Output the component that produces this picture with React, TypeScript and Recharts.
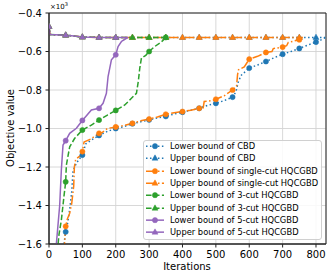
import React from 'react';
import { LineChart, Line, XAxis, YAxis, CartesianGrid, ReferenceArea } from 'recharts';

type P = [number, number];

const xTicks = [0, 100, 200, 300, 400, 500, 600, 700, 800];
const yTicks = [-1.6, -1.4, -1.2, -1.0, -0.8, -0.6, -0.4];

const cbdLower: P[] = [
  [42, -1.64], [48, -1.56], [50, -1.537], [55, -1.5], [62, -1.42], [68, -1.33], [72, -1.22], [82, -1.18],
  [100, -1.138], [110, -1.08], [127, -1.06], [150, -1.036], [175, -1.015], [200, -1.0], [225, -0.99],
  [250, -0.975], [275, -0.965], [300, -0.955], [325, -0.945], [350, -0.937], [375, -0.925], [400, -0.915],
  [425, -0.905], [450, -0.895], [475, -0.88], [500, -0.869], [525, -0.855], [550, -0.837], [560, -0.81],
  [567, -0.76], [575, -0.725], [600, -0.686], [625, -0.67], [650, -0.652], [675, -0.632], [700, -0.614],
  [725, -0.6], [750, -0.584], [775, -0.567], [800, -0.551], [815, -0.54], [828, -0.527],
];
const cbdUpper: P[] = [
  [0, -0.47], [3, -0.512], [50, -0.515], [75, -0.52], [100, -0.525], [150, -0.527], [200, -0.527],
  [250, -0.527], [300, -0.527], [350, -0.527], [400, -0.527], [450, -0.527], [500, -0.527], [550, -0.527],
  [600, -0.527], [650, -0.527], [700, -0.527], [750, -0.527], [800, -0.527], [828, -0.527],
];
const singleLower: P[] = [
  [45, -1.64], [48, -1.56], [50, -1.508], [55, -1.47], [62, -1.44], [68, -1.39], [74, -1.3], [76, -1.2],
  [80, -1.16], [95, -1.14], [100, -1.12], [105, -1.07], [125, -1.055], [150, -1.025], [160, -1.02],
  [175, -1.0], [200, -0.992], [225, -0.985], [250, -0.973], [275, -0.96], [300, -0.951], [325, -0.94],
  [350, -0.926], [375, -0.918], [400, -0.912], [425, -0.905], [450, -0.895], [462, -0.893], [465, -0.86],
  [490, -0.855], [500, -0.848], [525, -0.83], [550, -0.8], [562, -0.78], [565, -0.72], [568, -0.695],
  [585, -0.68], [600, -0.64], [625, -0.625], [650, -0.605], [668, -0.6], [672, -0.585], [700, -0.577],
  [712, -0.57], [717, -0.553], [735, -0.545], [750, -0.539], [760, -0.527],
];
const singleUpper: P[] = [
  [0, -0.47], [3, -0.512], [50, -0.515], [75, -0.52], [100, -0.525], [150, -0.527], [200, -0.527],
  [250, -0.527], [300, -0.527], [350, -0.527], [400, -0.527], [450, -0.527], [500, -0.527], [550, -0.527],
  [600, -0.527], [650, -0.527], [700, -0.527], [750, -0.527], [760, -0.527],
];
const cut3Lower: P[] = [
  [25, -1.64], [30, -1.55], [37, -1.476], [45, -1.35], [50, -1.277], [52, -1.19], [62, -1.095],
  [77, -1.051], [100, -1.008], [127, -0.982], [150, -0.956], [175, -0.93], [200, -0.906], [227, -0.878],
  [247, -0.843], [262, -0.817], [268, -0.75], [272, -0.686], [277, -0.634], [290, -0.62], [300, -0.6],
  [317, -0.574], [332, -0.556], [340, -0.545], [350, -0.527],
];
const cut3Upper: P[] = [
  [0, -0.47], [3, -0.512], [50, -0.515], [75, -0.52], [100, -0.525], [150, -0.527], [200, -0.527],
  [250, -0.527], [300, -0.527], [350, -0.527],
];
const cut5Lower: P[] = [
  [20, -1.7], [22, -1.6], [32, -1.4], [37, -1.216], [42, -1.086], [50, -1.063], [62, -1.025], [82, -0.999],
  [97, -0.965], [100, -0.958], [127, -0.904], [150, -0.895], [162, -0.869], [172, -0.817], [177, -0.73],
  [187, -0.643], [200, -0.617], [207, -0.574], [217, -0.548], [225, -0.539], [237, -0.527],
];
const cut5Upper: P[] = [
  [0, -0.47], [3, -0.512], [50, -0.515], [75, -0.52], [100, -0.525], [150, -0.527], [200, -0.527],
  [237, -0.527],
];

const seriesNames = [
  'Lower bound of CBD',
  'Upper bound of CBD',
  'Lower bound of single-cut HQCGBD',
  'Upper bound of single-cut HQCGBD',
  'Lower bound of 3-cut HQCGBD',
  'Upper bound of 3-cut HQCGBD',
  'Lower bound of 5-cut HQCGBD',
  'Upper bound of 5-cut HQCGBD',
];
const seriesData = [cbdLower, cbdUpper, singleLower, singleUpper, cut3Lower, cut3Upper, cut5Lower, cut5Upper];

const BLUE = '#1f77b4';
const ORANGE = '#ff7f0e';
const GREEN = '#2ca02c';
const PURPLE = '#9467bd';
const colors = [BLUE, BLUE, ORANGE, ORANGE, GREEN, GREEN, PURPLE, PURPLE];
const DOTTED = '1.5 2.475';
const DASHDOT = '9.6 2.4 1.5 2.4';
const DASHED = '5.55 2.4';
const dashes = [DOTTED, DOTTED, DASHDOT, DASHDOT, DASHED, DASHED, undefined, undefined];
const markers = ['o', '^', 'o', '^', 'o', '^', 'o', '^'];

const FONT = 'DejaVu Sans, sans-serif';
const fmt = (v: number) => {
  const s = v.toFixed(1);
  return s.replace('-', '\u2212');
};

const Marker = ({ cx, cy, color, kind }: { cx: number; cy: number; color: string; kind: string }) =>
  kind === 'o' ? (
    <circle cx={cx} cy={cy} r={2.6} fill={color} stroke={color} strokeWidth={0.5} />
  ) : (
    <polygon points={`${cx},${cy - 3.3} ${cx - 3},${cy + 2} ${cx + 3},${cy + 2}`} fill={color} stroke={color} strokeWidth={0.5} />
  );

const makeDot = (color: string, kind: string) => (props: any) => {
  const { cx, cy, payload, index } = props;
  if (cx == null || cy == null || payload.it % 50 !== 0) return <g key={`d-${index}`} />;
  return (
    <g key={`d-${index}`}>
      <Marker cx={cx} cy={cy} color={color} kind={kind} />
    </g>
  );
};

export default function App() {
  return (
    <div style={{ position: 'absolute', left: 0, top: 0, width: 331, height: 278, fontFamily: FONT, background: '#fff' }}>
      <LineChart width={331} height={278} margin={{ top: 13, right: 5, bottom: 0, left: 0 }}>
        <CartesianGrid stroke="#d4d4d4" strokeWidth={0.9} />
        <XAxis
          dataKey="it"
          type="number"
          domain={[0, 830]}
          ticks={xTicks}
          allowDataOverflow
          height={34}
          tickSize={3.5}
          tickMargin={3.5}
          tick={{ fill: '#000', fontSize: 10, fontFamily: FONT }}
          stroke="#222"
          allowDuplicatedCategory={false}
        />
        <YAxis
          type="number"
          dataKey="v"
          domain={[-1.6, -0.4]}
          ticks={yTicks}
          allowDataOverflow
          width={49}
          tickSize={3.5}
          tickMargin={3.5}
          tickFormatter={fmt}
          tick={{ fill: '#000', fontSize: 10, fontFamily: FONT }}
          stroke="#222"
        />
        {seriesData.map((pts, i) => (
          <Line
            key={seriesNames[i]}
            name={seriesNames[i]}
            data={pts.map(([it, v]) => ({ it, v }))}
            dataKey="v"
            type="linear"
            stroke={colors[i]}
            strokeWidth={1.5}
            strokeDasharray={dashes[i]}
            dot={makeDot(colors[i], markers[i])}
            activeDot={false}
            isAnimationActive={false}
          />
        ))}
        <ReferenceArea x1={0} x2={830} y1={-1.6} y2={-0.4} fill="none" stroke="#222" strokeWidth={1} ifOverflow="visible" />
      </LineChart>
      <svg width={331} height={278} style={{ position: 'absolute', left: 0, top: 0, pointerEvents: 'none' }}>
        <text x={50} y={9} fontSize={7} fontFamily={FONT} fill="#000">
          ×10<tspan fontSize={5} dy={-3}>3</tspan>
        </text>
        <text x={187} y={270} fontSize={10} fontFamily={FONT} fill="#000" textAnchor="middle">Iterations</text>
        <text x={14} y={128} fontSize={10} fontFamily={FONT} fill="#000" textAnchor="middle" transform="rotate(-90 14 128)">Objective value</text>
      </svg>
      <div
        style={{
          position: 'absolute', left: 143, top: 140, width: 179, height: 100, boxSizing: 'border-box',
          border: '1px solid #d0d0d0', borderRadius: 3, background: 'rgba(255,255,255,0.85)',
        }}
      >
        {seriesNames.map((n, i) => (
          <div key={n} style={{ position: 'absolute', left: 0, top: i * 12.3 - 1, height: 12.3, width: 179 }}>
            <svg width={22} height={12.3} style={{ position: 'absolute', left: 1, top: 0 }}>
              <line x1={1} x2={19} y1={6.15} y2={6.15} stroke={colors[i]} strokeWidth={1.5} strokeDasharray={dashes[i]} />
              <Marker cx={10} cy={6.15} color={colors[i]} kind={markers[i]} />
            </svg>
            <span style={{ position: 'absolute', left: 26, top: 0, lineHeight: '12.3px', fontSize: 8.33, fontFamily: FONT, color: '#000', whiteSpace: 'nowrap' }}>
              {n}
            </span>
          </div>
        ))}
      </div>
    </div>
  );
}
